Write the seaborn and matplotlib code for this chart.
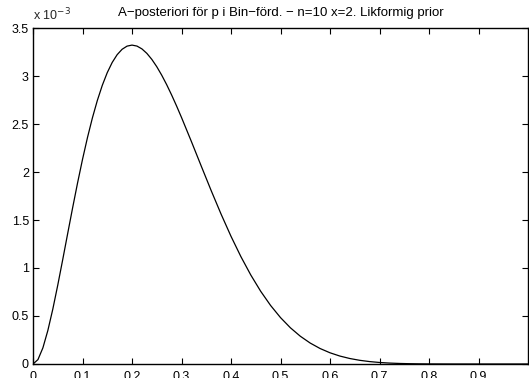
import matplotlib
matplotlib.use("Agg")
import matplotlib.pyplot as plt
import seaborn as sns
import pandas as pd

# p values and posterior values (in units of 1e-3)
p_vals = [0.00, 0.01, 0.02, 0.03, 0.04, 0.05, 0.06, 0.07, 0.08, 0.09, 0.10,
          0.11, 0.12, 0.13, 0.14, 0.15, 0.16, 0.17, 0.18, 0.19, 0.20, 0.21,
          0.22, 0.23, 0.24, 0.25, 0.26, 0.27, 0.28, 0.29, 0.30, 0.32, 0.34,
          0.36, 0.38, 0.40, 0.42, 0.44, 0.46, 0.48, 0.50, 0.52, 0.54, 0.56,
          0.58, 0.60, 0.62, 0.64, 0.66, 0.68, 0.70, 0.72, 0.74, 0.76, 0.78,
          0.80, 0.85, 0.90, 1.00]
post_e3 = [0.0, 0.0457, 0.1684, 0.3492, 0.5713, 0.8210, 1.0863, 1.3573, 1.6259,
           1.8855, 2.1308, 2.3578, 2.5635, 2.7457, 2.9030, 3.0349, 3.1411, 3.2220,
           3.2783, 3.3112, 3.3219, 3.3118, 3.2825, 3.2357, 3.1734, 3.0972, 3.0089,
           2.9102, 2.8027, 2.6883, 2.5682, 2.3173, 2.0602, 1.8057, 1.5607, 1.3302,
           1.1183, 0.9269, 0.7573, 0.6097, 0.4834, 0.3772, 0.2894, 0.2181, 0.1612,
           0.1168, 0.0827, 0.0572, 0.0385, 0.0252, 0.0159, 0.0097, 0.0057, 0.0032,
           0.0017, 0.0008, 0.0001, 0.0, 0.0]
x_ticks = [0, 0.1, 0.2, 0.3, 0.4, 0.5, 0.6, 0.7, 0.8, 0.9]
x_ticklabels = ["0", "0.1", "0.2", "0.3", "0.4", "0.5", "0.6", "0.7", "0.8", "0.9"]
y_ticks = [0, 0.5, 1, 1.5, 2, 2.5, 3, 3.5]
y_ticklabels = ["0", "0.5", "1", "1.5", "2", "2.5", "3", "3.5"]
title = "A\u2212posteriori för p i Bin\u2212förd. \u2212 n=10 x=2. Likformig prior"

sns.set_theme(style="ticks")
plt.rcParams["font.family"] = ["Liberation Sans", "DejaVu Sans"]

df = pd.DataFrame({"p": p_vals, "post": post_e3})

W, H = 529, 378
fig = plt.figure(figsize=(W / 100, H / 100), dpi=100)
fig.patch.set_facecolor("white")
ax = fig.add_axes([33 / W, (H - 364) / H, (528 - 33) / W, (364 - 28) / H])
sns.lineplot(data=df, x="p", y="post", ax=ax, color="black", linewidth=0.9)

ax.set_xlim(0, 1)
ax.set_ylim(0, 3.5)
ax.set_xticks(x_ticks)
ax.set_xticklabels(x_ticklabels)
ax.set_yticks(y_ticks)
ax.set_yticklabels(y_ticklabels)
ax.set_xlabel("")
ax.set_ylabel("")
for s in ax.spines.values():
    s.set_visible(True)
    s.set_linewidth(1.0)
    s.set_color("black")
ax.tick_params(direction="in", length=4, width=0.8, top=True, right=True,
               labelsize=9, colors="black")
ax.tick_params(axis="x", pad=5)
ax.tick_params(axis="y", pad=3)
ax.set_title(title, fontsize=9.5, pad=9, color="black")
ax.text(0.0, 1.015, r"x 10$^{-3}$", transform=ax.transAxes, fontsize=9,
        ha="left", va="bottom")

fig.savefig("out.png", dpi=100, facecolor="white")
